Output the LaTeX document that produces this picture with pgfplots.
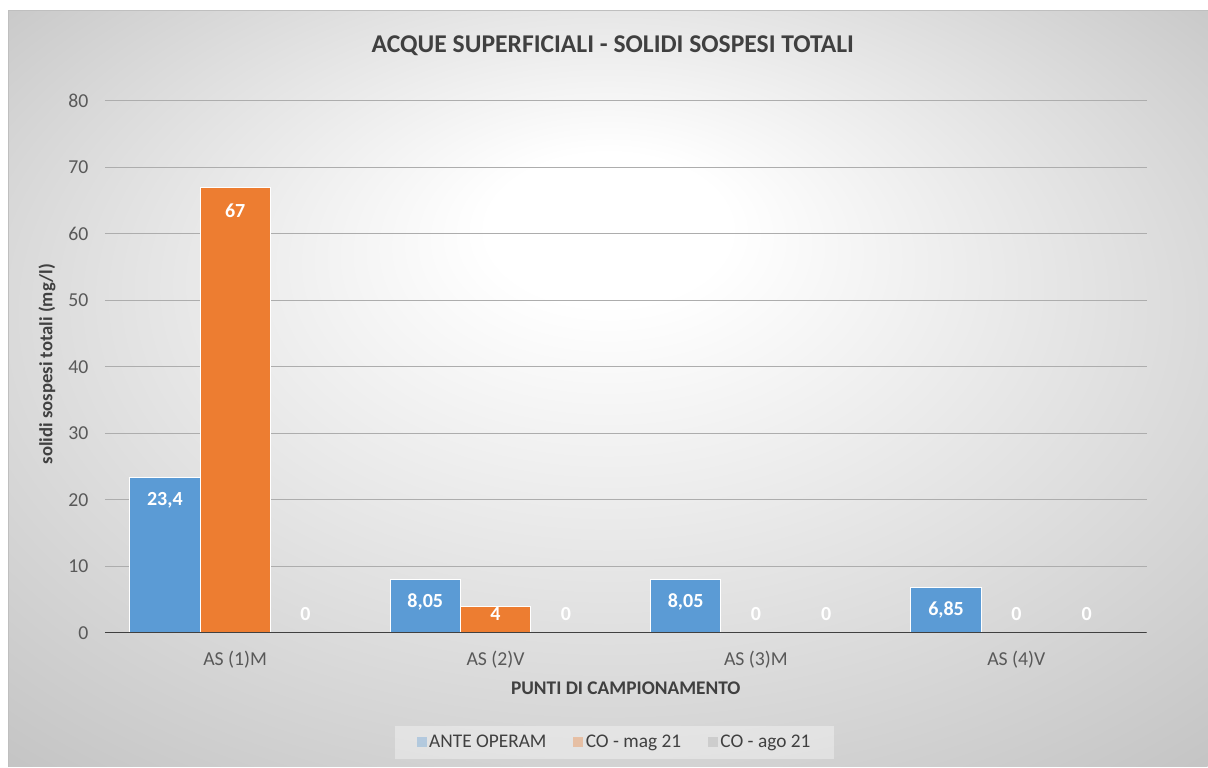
\documentclass[border=0pt]{standalone}
\usepackage{fontspec}
\setmainfont{Carlito}
\usepackage{pgfplots}
\pgfplotsset{compat=1.18}
\usepackage{pgfplotstable}

\definecolor{cblue}{RGB}{91,155,213}
\definecolor{corange}{RGB}{237,125,49}
\definecolor{cgray}{RGB}{165,165,165}
\definecolor{txt}{RGB}{89,89,89}
\definecolor{txtd}{RGB}{64,64,64}

\pgfdeclareradialshading{bgshade}{\pgfpoint{0bp}{12bp}}{color(0bp)=(white); color(5bp)=(white); color(42bp)=(black!27)}

\pgfplotstableread{
x y lab
0 23.4 {23,4}
1 8.05 {8,05}
2 8.05 {8,05}
3 6.85 {6,85}
}\ante
\pgfplotstableread{
x y lab
0 67 {67}
1 4 {4}
2 0 {0}
3 0 {0}
}\comag
\pgfplotstableread{
x y lab
0 0 {0}
1 0 {0}
2 0 {0}
3 0 {0}
}\coago

\begin{document}
\begin{tikzpicture}
\begin{scope}[x=0.75pt,y=-0.75pt]
\fill[white] (0,0) rectangle (1208,767);
\shade[shading=bgshade] (9,11) rectangle (1208,767);
\draw[black!25, line width=0.75pt] (9,767) -- (9,11) -- (1208,11);
\useasboundingbox (0,0) rectangle (1208,767);
\node[text=txtd, font=\bfseries\fontsize{19.2}{23}\selectfont] at (613,46) {ACQUE SUPERFICIALI - SOLIDI SOSPESI TOTALI};
\end{scope}
\begin{axis}[
  at={(78.75pt,-474.75pt)}, anchor=south west,
  scale only axis, width=781.5pt, height=399pt,
  xmin=-0.5, xmax=3.5, ymin=0, ymax=80,
  xtick={0,1,2,3},
  xticklabels={AS (1)M, AS (2)V, AS (3)M, AS (4)V},
  ytick={0,10,...,80},
  axis line style={draw=none},
  major tick length=0pt,
  ymajorgrids,
  grid style={black!32, line width=0.75pt},
  /pgf/number format/assume math mode=true,
  tick label style={font=\fontsize{14.8}{17}\selectfont, text=txt},
  yticklabel style={xshift=-9pt},
  xticklabel style={yshift=-10pt},
  xlabel={PUNTI DI CAMPIONAMENTO},
  ylabel={solidi sospesi totali (mg/l)},
  xlabel style={at={(axis description cs:0.5,-0.105)}, anchor=center, font=\bfseries\fontsize{14.5}{17}\selectfont, text=txtd},
  ylabel style={at={(axis description cs:-0.0557,0.505)}, anchor=center, font=\bfseries\fontsize{14}{17}\selectfont, text=txtd},
  ybar, bar width=0.27,
  point meta=explicit symbolic,
  nodes near coords,
  visualization depends on={y \as \rawy},
  every node near coord/.append style={anchor=center, inner sep=0pt, text=white,
     font=\bfseries\fontsize{15}{17}\selectfont,
     yshift={-min(23,\rawy*6.65-19)*0.75}},
  legend columns=3,
  legend style={at={(axis description cs:0.4895,-0.206)}, anchor=center,
     fill=white, fill opacity=0.35, text opacity=1, draw=none,
     font=\fontsize{14.5}{17}\selectfont, text=txtd,
     inner xsep=16pt, inner ysep=5pt,
     /tikz/every even column/.append style={column sep=18pt}},
  legend image code/.code={\fill[#1, draw=none] (-1.5pt,-3.8pt) rectangle (6pt,3.8pt);},
]
\addplot[fill=cblue, draw=white, line width=0.6pt, bar shift=-0.27] table[x=x, y=y, meta=lab] {\ante};
\addplot[fill=corange, draw=white, line width=0.6pt, bar shift=0] table[x=x, y=y, meta=lab] {\comag};
\addplot[fill=cgray, draw=white, line width=0.6pt, bar shift=0.27] table[x=x, y=y, meta=lab] {\coago};
\legend{ANTE OPERAM, CO - mag 21, CO - ago 21}
\draw[black!75, line width=1.6pt] (rel axis cs:0,0) -- (rel axis cs:1,0);
\end{axis}
\end{tikzpicture}
\end{document}
